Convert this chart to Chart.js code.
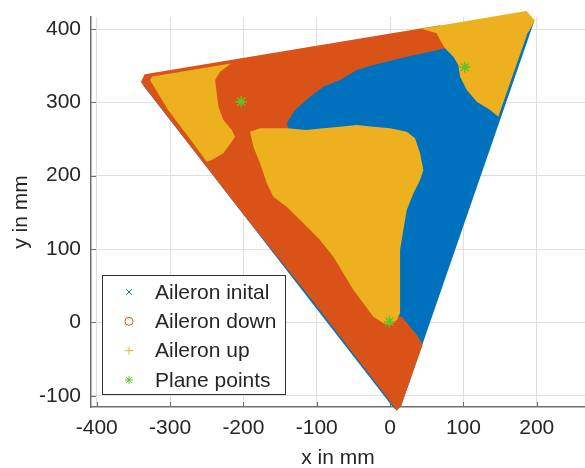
<!DOCTYPE html>
<html>
<head>
<meta charset="utf-8">
<script src="https://cdn.jsdelivr.net/npm/chart.js@4.4.1/dist/chart.umd.min.js"></script>
<style>
  html, body { margin: 0; padding: 0; background: #fff; }
</style>
</head>
<body>
<canvas id="aileron-chart" width="585" height="468"></canvas>
<script>
// axis ticks (mm)
const xTicks = [-400, -300, -200, -100, 0, 100, 200];
const yTicks = [-100, 0, 100, 200, 300, 400];

const seriesLabels = ["Aileron inital", "Aileron down", "Aileron up", "Plane points"];

// outline of the reachable area, aileron in initial position
const initalOutline = [
  [-338.6, 327.7], [-334.1, 337.3], [186.4, 423.6], [196.8, 411.3],
  [15.0, -114.1], [8.9, -120.2], [2.7, -114.1], [-336.1, 322.3],
];

// aileron down
const downOutline = [
  [-339.8, 327.9], [-334.6, 338.5], [68.2, 405.2], [75.0, 373.7],
  [45.4, 366.9], [13.6, 360.0], [-22.8, 350.9], [-45.4, 344.1],
  [-68.2, 330.5], [-91.0, 321.3], [-109.1, 307.7], [-129.5, 289.5],
  [-140.9, 271.4], [-136.4, 259.5], [-68.2, 207.7], [6.8, 98.6],
  [10.9, 7.3], [16.0, 7.7], [27.3, -6.0], [38.6, -19.6],
  [44.3, -30.9], [15.0, -114.1], [8.9, -120.2], [4.8, -114.1],
  [-106.4, 30.5], [-199.5, 146.6],
];

// aileron up, three separate patches
const upLeft = [
  [-327.3, 330.5], [-324.5, 335.2], [-216.8, 352.9], [-231.8, 341.8],
  [-238.6, 330.5], [-236.3, 312.3], [-234.1, 294.0], [-227.3, 275.9],
  [-215.9, 262.3], [-211.4, 253.1], [-215.9, 246.3], [-227.3, 230.5],
  [-243.2, 221.4], [-250.0, 219.0], [-268.6, 244.5], [-302.7, 289.5],
];
const upCenter = [
  [-190.9, 260.0], [-177.3, 264.6], [-140.9, 264.6], [-113.6, 262.3],
  [-91.0, 264.6], [-68.2, 266.8], [-45.4, 269.1], [-22.8, 266.8],
  [0, 264.6], [22.8, 260.0], [34.1, 251.0], [40.9, 230.5],
  [45.4, 207.7], [40.9, 194.1], [31.8, 176.0], [22.8, 153.2],
  [18.1, 125.9], [13.6, 98.6], [13.6, 12.3], [9.1, 3.2],
  [0, -3.6], [-9.1, -1.3], [-22.8, 7.7], [-36.4, 26.0],
  [-50.0, 44.1], [-63.7, 66.9], [-77.3, 89.5], [-95.5, 112.3],
  [-118.2, 135.0], [-140.9, 157.7], [-159.1, 171.3], [-168.1, 189.6],
  [-177.3, 216.9], [-186.4, 239.5],
];
const upRight = [
  [42.3, 400.3], [185.5, 424.5], [197.5, 412.0], [190.0, 398.0],
  [187.5, 394.5], [149.3, 285.4], [147.7, 280.4], [136.4, 289.5],
  [118.2, 300.9], [104.6, 316.8], [95.5, 335.0], [93.1, 350.9],
  [86.3, 362.2], [75.0, 373.7], [68.2, 385.0], [63.7, 394.1],
];

const planePoints = [[-203, 301], [102, 348], [-1, 1]];

const colors = {
  blue: "#0072BD",
  orange: "#D95319",
  yellow: "#EDB120",
  green: "#5EC424",
  text: "#262626",
  axis: "#6e6e6e",
  grid: "#dfdfdf",
};

const fontFamily = "'Liberation Sans', Arial, Helvetica, sans-serif";

const toXY = (arr) => arr.map((p) => ({ x: p[0], y: p[1] }));

function regionSet(label, outline, color, style) {
  return {
    label: label,
    data: toXY(outline),
    region: true,
    backgroundColor: color,
    borderColor: color,
    pointStyle: style,
    pointRadius: 0,
    pointHoverRadius: 0,
  };
}

// fills each region outline through the chart's scales
const regionPaint = {
  id: "regionPaint",
  beforeDatasetsDraw(chart) {
    const ctx = chart.ctx;
    chart.data.datasets.forEach((ds, i) => {
      if (!ds.region) return;
      const pts = chart.getDatasetMeta(i).data;
      ctx.save();
      ctx.beginPath();
      pts.forEach((p, j) => (j ? ctx.lineTo(p.x, p.y) : ctx.moveTo(p.x, p.y)));
      ctx.closePath();
      ctx.fillStyle = ds.backgroundColor;
      ctx.fill();
      ctx.restore();
    });
  },
};

// short tick marks pointing into the plot
const innerTicks = {
  id: "innerTicks",
  afterDraw(chart) {
    const ctx = chart.ctx;
    const { left, bottom } = chart.chartArea;
    const len = 5;
    ctx.save();
    ctx.strokeStyle = colors.axis;
    ctx.lineWidth = 1;
    ctx.beginPath();
    xTicks.forEach((v) => {
      const px = Math.round(chart.scales.x.getPixelForValue(v)) + 0.5;
      ctx.moveTo(px, bottom);
      ctx.lineTo(px, bottom - len);
    });
    yTicks.forEach((v) => {
      const py = Math.round(chart.scales.y.getPixelForValue(v)) + 0.5;
      ctx.moveTo(left, py);
      ctx.lineTo(left + len, py);
    });
    ctx.stroke();
    ctx.restore();
  },
};

// boxed legend inside the plot, lower left
const boxLegend = {
  id: "boxLegend",
  afterDraw(chart, args, opts) {
    const ctx = chart.ctx;
    ctx.save();
    ctx.fillStyle = "#fff";
    ctx.fillRect(opts.left, opts.top, opts.width, opts.height);
    ctx.strokeStyle = "#333";
    ctx.lineWidth = 1;
    ctx.strokeRect(opts.left + 0.5, opts.top + 0.5, opts.width, opts.height);
    ctx.font = "21px " + fontFamily;
    ctx.textBaseline = "middle";
    seriesLabels.forEach((label, i) => {
      const ds = chart.data.datasets.find((d) => d.label === label);
      const y = opts.firstRow + i * opts.rowGap;
      ctx.strokeStyle = ds.borderColor;
      ctx.fillStyle = "rgba(0,0,0,0)";
      Chart.helpers.drawPoint(
        ctx,
        { pointStyle: ds.pointStyle, radius: 4, borderWidth: 1, rotation: 0 },
        opts.markerX,
        y
      );
      ctx.fillStyle = colors.text;
      ctx.fillText(label, opts.textX, y + 1);
    });
    ctx.restore();
  },
};

// keep the plot box fixed: no extra room for overhanging tick labels
function noScalePadding(s) {
  s.paddingTop = 0;
  s.paddingBottom = 0;
  s.paddingLeft = 0;
  s.paddingRight = 0;
}

const axisFont = { family: fontFamily, size: 21 };

new Chart("aileron-chart", {
  type: "scatter",
  data: {
    datasets: [
      regionSet(seriesLabels[0], initalOutline, colors.blue, "crossRot"),
      regionSet(seriesLabels[1], downOutline, colors.orange, "circle"),
      regionSet(seriesLabels[2], upLeft, colors.yellow, "cross"),
      regionSet(seriesLabels[2], upCenter, colors.yellow, "cross"),
      regionSet(seriesLabels[2], upRight, colors.yellow, "cross"),
      {
        label: seriesLabels[3],
        data: toXY(planePoints),
        pointStyle: "star",
        pointRadius: 5.5,
        borderWidth: 1.5,
        borderColor: colors.green,
        backgroundColor: colors.green,
      },
    ],
  },
  options: {
    responsive: false,
    animation: false,
    devicePixelRatio: 1,
    layout: {
      autoPadding: false,
      padding: { top: 17, right: 0, bottom: 0, left: 0 },
    },
    plugins: {
      legend: { display: false },
      tooltip: { enabled: false },
      boxLegend: {
        left: 102,
        top: 275,
        width: 183,
        height: 119,
        firstRow: 292,
        rowGap: 29.3,
        markerX: 129,
        textX: 155,
      },
    },
    scales: {
      x: {
        type: "linear",
        min: -407.8,
        max: 265.8,
        afterBuildTicks: (s) => {
          s.ticks = xTicks.map((v) => ({ value: v }));
        },
        afterFit: (s) => {
          s.height = 61;
          noScalePadding(s);
        },
        grid: { color: colors.grid, drawTicks: false },
        border: { color: colors.axis, width: 1.5 },
        ticks: {
          color: colors.text,
          font: axisFont,
          padding: 9,
          maxRotation: 0,
          autoSkip: false,
          callback: (v) => String(v),
        },
        title: {
          display: true,
          text: "x in mm",
          color: colors.text,
          font: axisFont,
          padding: { top: 0, bottom: -3 },
        },
      },
      y: {
        type: "linear",
        min: -115.4,
        max: 416.4,
        afterBuildTicks: (s) => {
          s.ticks = yTicks.map((v) => ({ value: v }));
        },
        afterFit: (s) => {
          s.width = 91;
          noScalePadding(s);
        },
        grid: { color: colors.grid, drawTicks: false },
        border: { color: colors.axis, width: 1.5 },
        ticks: {
          color: colors.text,
          font: axisFont,
          padding: 10,
          autoSkip: false,
          callback: (v) => String(v),
        },
        title: {
          display: true,
          text: "y in mm",
          color: colors.text,
          font: axisFont,
          padding: { top: 9, bottom: 0 },
        },
      },
    },
  },
  plugins: [regionPaint, innerTicks, boxLegend],
});
</script>
</body>
</html>
